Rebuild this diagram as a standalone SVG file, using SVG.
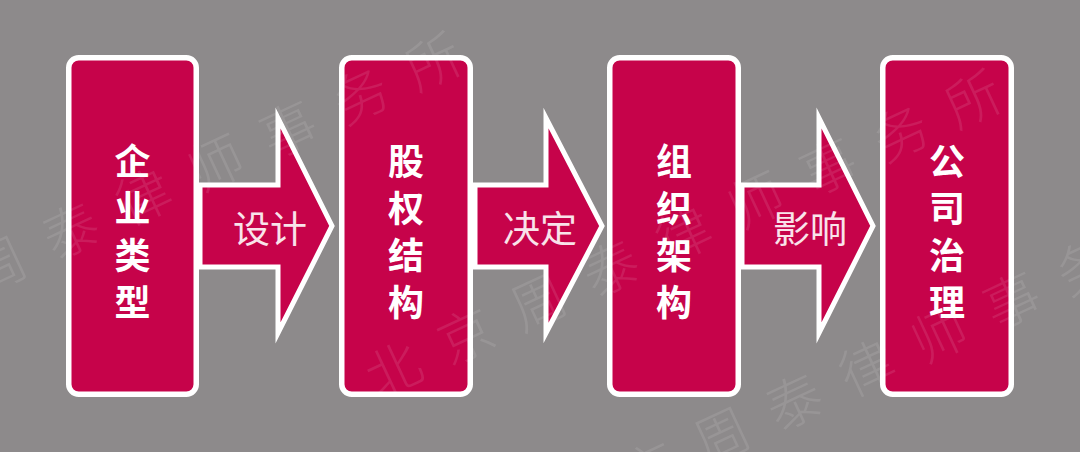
<svg xmlns="http://www.w3.org/2000/svg" width="1080" height="452" viewBox="0 0 1080 452">
<style>
.bg{fill:#8d8a8b}
.box{fill:#c6034a;stroke:#ffffff;stroke-width:5.5}
.arrow{fill:#c6034a;stroke:#ffffff;stroke-width:5;stroke-linejoin:miter;stroke-miterlimit:12}
.t{font-family:"Noto Sans CJK SC","Noto Sans",sans-serif;font-weight:700;font-size:36px;fill:#ffffff;text-anchor:middle}
.lab{font-family:"Noto Sans CJK SC","Noto Sans",sans-serif;font-weight:400;font-size:37px;fill:#f9e3ea;text-anchor:middle}
.wm{font-family:"Noto Sans CJK SC",sans-serif;font-weight:300;font-size:55px;fill:#ffffff;fill-opacity:0.1;letter-spacing:25px}
</style>
<rect class="bg" x="0" y="0" width="1080" height="452"/>
<g id="connectors">
  <polygon class="arrow" points="200,185 278,185 278,118 332,226 278,333 278,267 200,267"/>
  <text class="lab" x="270" y="243">设计</text>
  <polygon class="arrow" points="475,185 546,185 546,118 602,226 546,333 546,267 475,267"/>
  <text class="lab" x="540" y="243">决定</text>
  <polygon class="arrow" points="742,185 819,185 819,118 873,226 819,333 819,267 742,267"/>
  <text class="lab" x="810" y="243">影响</text>
</g>
<g id="node-qiyeleixing">
  <rect class="box" x="68.75" y="57.75" width="127.5" height="336.5" rx="10"/>
  <text class="t"><tspan x="132.5" y="175">企</tspan><tspan x="132.5" y="222">业</tspan><tspan x="132.5" y="269">类</tspan><tspan x="132.5" y="316">型</tspan></text>
</g>
<g id="node-guquanjiegou">
  <rect class="box" x="341.75" y="57.75" width="128.5" height="336.5" rx="10"/>
  <text class="t"><tspan x="406" y="175">股</tspan><tspan x="406" y="222">权</tspan><tspan x="406" y="269">结</tspan><tspan x="406" y="316">构</tspan></text>
</g>
<g id="node-zuzhijiagou">
  <rect class="box" x="609.75" y="57.75" width="128.5" height="336.5" rx="10"/>
  <text class="t"><tspan x="674" y="175">组</tspan><tspan x="674" y="222">织</tspan><tspan x="674" y="269">架</tspan><tspan x="674" y="316">构</tspan></text>
</g>
<g id="node-gongsizhili">
  <rect class="box" x="882.75" y="57.75" width="128.5" height="336.5" rx="10"/>
  <text class="t"><tspan x="947" y="175">公</tspan><tspan x="947" y="222">司</tspan><tspan x="947" y="269">治</tspan><tspan x="947" y="316">理</tspan></text>
</g>
<g id="watermark">
  <text class="wm" transform="translate(-2,264) rotate(-25)" x="-27.5" y="21">周泰律师事务所</text>
  <text class="wm" transform="translate(393,369) rotate(-25)" x="-27.5" y="21">北京周泰律师事务所</text>
  <text class="wm" transform="translate(649,469) rotate(-25)" x="-27.5" y="21">京周泰律师事务</text>
</g>
</svg>
